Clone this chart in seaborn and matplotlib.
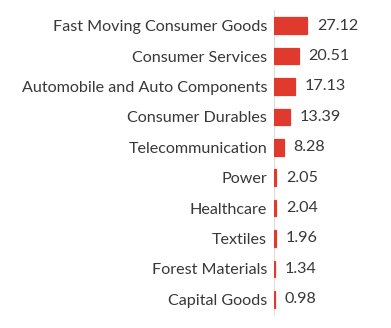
import matplotlib
matplotlib.use("Agg")
import matplotlib.pyplot as plt
import seaborn as sns
import pandas as pd
import numpy as np

categories = ["Fast Moving Consumer Goods", "Consumer Services", "Automobile and Auto Components",
              "Consumer Durables", "Telecommunication", "Power", "Healthcare", "Textiles",
              "Forest Materials", "Capital Goods"]
values = [27.12, 20.51, 17.13, 13.39, 8.28, 2.05, 2.04, 1.96, 1.34, 0.98]
value_labels = ["27.12", "20.51", "17.13", "13.39", "8.28", "2.05", "2.04", "1.96", "1.34", "0.98"]

sns.set_theme(style="white")
plt.rcParams['font.family'] = ['Lato', 'DejaVu Sans']

df = pd.DataFrame({"category": categories, "value": values})

fig = plt.figure(figsize=(3.91, 3.28), dpi=100)
ax = fig.add_axes([273.5/391, 1 - 314.5/328, 112/391, 304/328])
sns.barplot(data=df, y="category", x="value", orient="h", color="#e03a2e",
            saturation=1, width=0.55, ax=ax, edgecolor="#e03a2e", linewidth=0.9)
for p in ax.patches:
    p.set_zorder(3)
ax.set_xlim(0, 90)
ax.set_ylim(9.5, -0.5)
ax.set_xlabel("")
ax.set_ylabel("")
ax.set_xticks([])
for s in ["top", "right", "bottom"]:
    ax.spines[s].set_visible(False)
ax.spines["left"].set_color("#dddddd")
ax.spines["left"].set_linewidth(0.8)
ax.spines["left"].set_zorder(0.5)
ax.tick_params(axis="y", which="major", length=0, pad=4.5, labelsize=11.6, labelcolor="#383838")
ax.set_yticks(np.arange(-0.5, 10, 1), minor=True)
ax.tick_params(axis="y", which="minor", length=3, color="#dddddd", width=0.8)
ax.bar_label(ax.containers[0], labels=value_labels, padding=7, fontsize=11.6, color="#383838")

fig.savefig("out.png", dpi=100)
